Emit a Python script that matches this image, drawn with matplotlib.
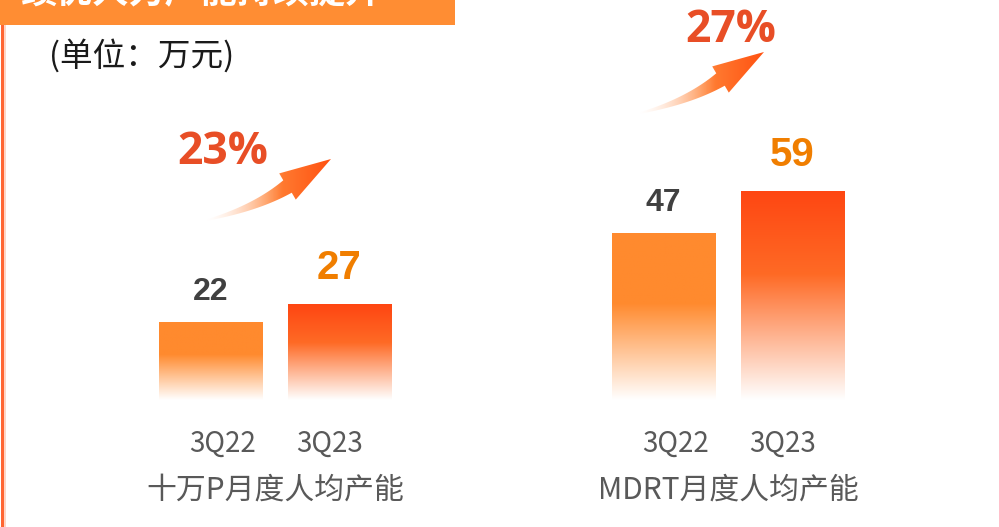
import numpy as np
import matplotlib
matplotlib.use("Agg")
import matplotlib.pyplot as plt
from matplotlib.patches import Rectangle, Polygon
from matplotlib.colors import to_rgb
import matplotlib.transforms as mtransforms

plt.rcParams['font.family'] = ['Noto Sans CJK SC', 'DejaVu Sans']

# ---------------- data ----------------
periods = ["3Q22", "3Q23"]
groups = ["十万P月度人均产能", "MDRT月度人均产能"]
values_100k = [22, 27]
values_mdrt = [47, 59]
growth = ["23%", "27%"]
title_text = "绩优人力产能持续提升"
unit_text = "(单位：万元)"

# ---------------- figure ----------------
W, H = 999, 527
fig = plt.figure(figsize=(W / 100, H / 100), dpi=100)
fig.patch.set_facecolor("white")

# overlay axes in pixel coordinates for decorations
ov = fig.add_axes([0, 0, 1, 1])
ov.set_facecolor("none")
ov.axis("off")

ov.add_patch(Rectangle((0, 0), 455, 25, color="#FF8D33", lw=0, zorder=1))
ov.add_patch(Rectangle((1, 25), 3, 502, color="#FF6633", lw=0, zorder=1))
ov.add_patch(Rectangle((4, 25), 1.5, 502, color="#FFD5C5", lw=0, zorder=1))

fig.text(20 / W, 1 + 8 / H, title_text, color="white", fontsize=26,
         fontweight="bold", ha="left", va="center")
fig.text(49 / W, 1 - 56 / H, unit_text, color="#1A1A1A", fontsize=23.5,
         ha="left", va="center")


def hex_rgb(h):
    return np.array(to_rgb(h))


def gradient_rgba(stops, n=256):
    t = np.linspace(0, 1, n)
    pos = [s[0] for s in stops]
    cols = np.array([hex_rgb(s[1]) for s in stops])
    rgb = np.stack([np.interp(t, pos, cols[:, k]) for k in range(3)], axis=1)
    return rgb


def draw_arrow(ax, tail):
    tx, ty = tail
    T = np.array([tx, ty], float)
    C = T + np.array([49, -12], float)
    B = T + np.array([80.5, -33.5], float)
    tip = T + np.array([124, -61], float)
    d = tip - B
    d = d / np.hypot(*d)
    nrm = np.array([-d[1], d[0]])
    if nrm[1] < 0:
        nrm = -nrm
    s = np.linspace(0, 1, 50)
    pts = ((1 - s) ** 2)[:, None] * T + (2 * (1 - s) * s)[:, None] * C + (s ** 2)[:, None] * B
    der = (2 * (1 - s))[:, None] * (C - T) + (2 * s)[:, None] * (B - C)
    der = der / np.hypot(der[:, 0], der[:, 1])[:, None]
    nn = np.stack([-der[:, 1], der[:, 0]], axis=1)
    nn[nn[:, 1] < 0] *= -1
    w = 0.8 + 6.7 * s ** 1.1
    upper = pts - nn * w[:, None]
    lower = pts + nn * w[:, None]
    c1 = B - nrm * 15.5
    c2 = B + nrm * 15.5
    poly = np.vstack([upper, c1[None], tip[None], c2[None], lower[::-1]])
    patch = Polygon(poly, closed=True, facecolor="none", edgecolor="none")
    ax.add_patch(patch)
    n = 200
    x0, x1 = poly[:, 0].min() - 1, poly[:, 0].max() + 1
    y0, y1 = poly[:, 1].min() - 1, poly[:, 1].max() + 1
    t = np.linspace(0, 1, n)
    rgb = gradient_rgba([(0, "#FFB585"), (0.5, "#FF8438"), (1.0, "#FF5010")], n)
    alpha = np.clip(t / 0.6, 0, 1) ** 1.3
    img = np.concatenate([rgb, alpha[:, None]], axis=1)[None, :, :]
    im = ax.imshow(img, extent=(x0, x1, y1, y0), aspect="auto",
                   interpolation="bilinear", zorder=2)
    im.set_clip_path(patch)


draw_arrow(ov, (207, 220))
draw_arrow(ov, (640, 113))
ov.set_xlim(0, W)
ov.set_ylim(H, 0)

pct_pos = [(223, 153), (731, 31)]
for txt, (px, py) in zip(growth, pct_pos):
    ov.text(px, py, txt, color="#E84E26", fontsize=32, fontweight="bold",
            family="Open Sans", ha="center", va="center", zorder=5)

# ---------------- bars ----------------
bar_stops = [
    [(0, "#FF8A2E"), (0.42, "#FF8A2E"), (1.0, "#FFFFFF")],
    [(0, "#FF4612"), (0.40, "#FE6A25"), (1.0, "#FFFFFF")],
]
label_colors = ["#404040", "#F07E00"]
label_sizes = [23, 29]
label_offsets = [30.0, 36.0]
tick_shift = [0.09, -0.08]

positions = np.arange(len(periods))
axes_left_px = [81.5, 534.5]
for gi, (gname, vals) in enumerate(zip(groups, [values_100k, values_mdrt])):
    ax = fig.add_axes([axes_left_px[gi] / W, 127 / H, 387 / W, 284 / H])
    ax.set_facecolor("none")
    bars = ax.bar(positions, vals, width=0.8, color="none", edgecolor="none")
    for i, (rect, v) in enumerate(zip(bars, vals)):
        rgb = gradient_rgba(bar_stops[i], 256)
        img = rgb[:, None, :]
        x0 = rect.get_x()
        im = ax.imshow(img, extent=(x0, x0 + rect.get_width(), 0, v),
                       origin="upper", aspect="auto", interpolation="bilinear",
                       zorder=2)
        im.set_clip_path(rect)
        ax.annotate(f"{v}", xy=(positions[i], v), xytext=(0, label_offsets[i] * 0.72),
                    textcoords="offset points", ha="center", va="center",
                    fontsize=label_sizes[i], fontweight="bold",
                    family="Liberation Sans", color=label_colors[i])
    ax.set_xlim(-1, 2)
    ax.set_ylim(0, 80)
    for sp in ax.spines.values():
        sp.set_visible(False)
    ax.set_xticks([])
    ax.set_yticks([])
    trans = mtransforms.blended_transform_factory(ax.transData, ax.transAxes)
    for i, p in enumerate(periods):
        ax.text(positions[i] + tick_shift[i], -0.155, p, transform=trans,
                ha="center", va="center", fontsize=20, color="#595959")
    ax.text(0.5, -0.317, gname, transform=trans, ha="center", va="center",
            fontsize=21.5, color="#595959")

fig.savefig("out.png", dpi=100, facecolor="white")
